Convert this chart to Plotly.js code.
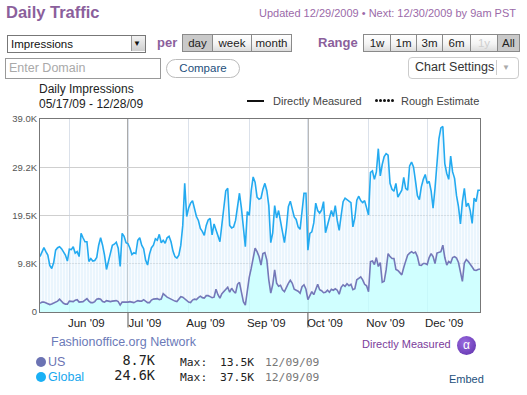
<!DOCTYPE html>
<html><head><meta charset="utf-8">
<script src="https://cdn.plot.ly/plotly-3.0.1.min.js"></script>
<style>
body{margin:0;width:527px;height:395px;overflow:hidden;background:#fff;font-family:"Liberation Sans",Arial,sans-serif;position:relative}
#chart{position:absolute;left:0;top:0;width:527px;height:395px}
.a{position:absolute;white-space:nowrap;line-height:1}
.btn{position:absolute;top:34px;height:16px;border:1px solid #8a8a8a;background:linear-gradient(#ffffff 0%,#f4f4f4 55%,#dcdcdc 100%);font-size:11.5px;color:#222;text-align:center;line-height:16px;box-sizing:content-box}
.pr{background:#c9c9c9}
.mono{font-family:"DejaVu Sans Mono","Liberation Mono",monospace}
.dot{position:absolute;top:99px;width:3px;height:3px;border-radius:50%;background:#111}
</style></head><body>
<div id="chart"></div>

<div class="a" style="left:6px;top:4px;font-size:16.5px;font-weight:bold;color:#8b5f9c">Daily Traffic</div>
<div class="a" style="right:11px;top:8px;font-size:11px;color:#9b6aa9">Updated 12/29/2009 &#8226; Next: 12/30/2009 by 9am PST</div>

<div class="a" style="left:7px;top:35px;width:137px;height:16px;border:1px solid #777;background:#fff"></div>
<div class="a" style="left:11px;top:39px;font-size:11.5px;color:#111">Impressions</div>
<div class="a" style="left:131px;top:36px;width:13px;height:15px;background:linear-gradient(#f2f2f2,#cfcfcf);border-left:1px solid #999"></div>
<div class="a" style="left:133px;top:40px;font-size:8px;color:#111">&#9660;</div>

<div class="a" style="left:157px;top:36px;font-size:13px;font-weight:bold;color:#8b5f9c">per</div>
<div class="btn pr" style="left:182px;width:29px">day</div>
<div class="btn" style="left:212px;width:38px">week</div>
<div class="btn" style="left:251px;width:39px">month</div>

<div class="a" style="left:318px;top:36px;font-size:13px;font-weight:bold;color:#8b5f9c">Range</div>
<div class="btn" style="left:363px;width:26px">1w</div>
<div class="btn" style="left:390px;width:25px">1m</div>
<div class="btn" style="left:416px;width:25px">3m</div>
<div class="btn" style="left:442px;width:27px">6m</div>
<div class="btn" style="left:470px;width:26px;color:#cfcfcf">1y</div>
<div class="btn pr" style="left:497px;width:21px">All</div>

<div class="a" style="left:5px;top:58px;width:154px;height:19px;border:1px solid #999;background:#fff"></div>
<div class="a" style="left:9px;top:62px;font-size:12.5px;color:#a9a9a9">Enter Domain</div>
<div class="a" style="left:166px;top:59px;width:72px;height:17px;border:1px solid #bbb;border-radius:10px;background:#fff;font-size:11.5px;color:#1d4f7c;text-align:center;line-height:17px">Compare</div>
<div class="a" style="left:408px;top:57px;width:109px;height:20px;border:1px solid #ccc;border-radius:4px;background:#fff"></div>
<div class="a" style="left:415px;top:61px;font-size:12.5px;color:#333">Chart Settings</div>
<div class="a" style="left:496px;top:60px;width:1px;height:15px;background:#ccc"></div>
<div class="a" style="left:502px;top:64px;font-size:8px;color:#aaa">&#9660;</div>

<div class="a" style="left:39px;top:83px;font-size:12px;color:#222">Daily Impressions</div>
<div class="a" style="left:39px;top:98px;font-size:12px;color:#222">05/17/09 - 12/28/09</div>
<div class="a" style="left:247px;top:100px;width:17px;height:2px;background:#111"></div>
<div class="a" style="left:273px;top:96px;font-size:11px;color:#444">Directly Measured</div>
<div class="dot" style="left:375px"></div><div class="dot" style="left:379px"></div><div class="dot" style="left:383px"></div><div class="dot" style="left:387px"></div><div class="dot" style="left:391px"></div>
<div class="a" style="left:401px;top:96px;font-size:11px;color:#444">Rough Estimate</div>

<div class="a" style="left:51px;top:336px;font-size:12.5px;color:#6b7ab8">Fashionoffice.org Network</div>
<div class="a" style="left:362px;top:339px;font-size:11px;color:#7b3c9b">Directly Measured</div>
<div class="a" style="left:457px;top:336px;width:19px;height:19px;border-radius:50%;background:radial-gradient(circle at 40% 35%,#9a6ae0,#5b2ea8);color:#fff;font-size:12px;text-align:center;line-height:18px">&#945;</div>

<div class="a" style="left:36px;top:357px;width:10px;height:10px;border-radius:50%;background:#6b73b3"></div>
<div class="a" style="left:48px;top:356px;font-size:12.5px;color:#6b73b3">US</div>
<div class="a mono" style="left:110px;width:45px;text-align:right;top:354px;font-size:13.5px;color:#222">8.7K</div>
<div class="a mono" style="left:180px;top:357px;font-size:11.3px;color:#222">Max:</div>
<div class="a mono" style="left:220px;top:357px;font-size:11.3px;color:#222">13.5K</div>
<div class="a mono" style="left:265px;top:357px;font-size:11.3px;color:#777">12/09/09</div>

<div class="a" style="left:36px;top:372px;width:10px;height:10px;border-radius:50%;background:#1ab0f5"></div>
<div class="a" style="left:48px;top:371px;font-size:12.5px;color:#1aa8ee">Global</div>
<div class="a mono" style="left:110px;width:45px;text-align:right;top:369px;font-size:13.5px;color:#222">24.6K</div>
<div class="a mono" style="left:180px;top:372px;font-size:11.3px;color:#222">Max:</div>
<div class="a mono" style="left:220px;top:372px;font-size:11.3px;color:#222">37.5K</div>
<div class="a mono" style="left:265px;top:372px;font-size:11.3px;color:#777">12/09/09</div>
<div class="a" style="left:449px;top:374px;font-size:11px;color:#1d4f7c">Embed</div>

<script>
const startDate = '2009-05-17';
const globalK = [
11.2,12.3,13.0,12.2,11.5,9.4,8.8,10.0,12.5,13.0,
13.2,12.8,12.2,11.5,10.3,12.7,12.6,13.2,11.9,12.2,
11.2,15.9,15.0,14.2,14.2,10.2,10.8,10.3,10.4,11.0,
13.5,15.0,13.5,11.5,8.6,10.2,11.5,13.5,13.7,14.1,
12.9,9.2,15.9,15.3,14.0,13.8,12.9,11.6,12.0,11.8,
14.5,15.0,13.5,12.8,10.5,9.5,11.7,13.0,13.5,14.8,
14.5,15.7,14.0,14.5,13.9,15.0,15.3,14.2,12.3,11.2,
10.9,11.5,13.5,17.5,26.0,19.3,21.0,22.0,22.5,21.0,
19.3,18.5,16.9,16.3,15.5,17.5,18.6,18.9,15.6,17.8,
16.8,15.4,14.2,17.9,21.3,24.5,25.0,17.5,17.0,17.2,
18.5,21.8,24.0,21.0,16.6,13.2,20.3,19.5,24.5,27.3,
26.2,23.2,22.8,23.0,24.8,26.0,24.5,21.5,14.0,16.0,
21.5,19.0,20.5,18.5,16.0,14.0,17.0,21.3,22.4,20.5,
19.2,18.7,17.2,16.7,21.0,24.0,24.0,12.5,15.9,16.2,
18.0,22.0,20.5,20.0,20.6,22.3,16.0,17.5,19.5,20.5,
19.3,21.5,18.5,16.5,19.5,22.3,23.0,22.7,22.5,22.1,
17.2,19.0,22.6,23.4,22.5,22.1,22.5,20.8,19.6,28.2,
28.5,26.8,28.3,33.0,27.5,29.8,31.4,32.0,31.7,26.0,
24.8,24.4,26.0,23.2,24.0,24.6,27.2,25.0,24.6,29.5,
30.3,29.3,26.5,23.5,22.7,25.3,26.8,27.8,26.0,26.4,
24.5,21.0,25.0,29.5,35.0,37.2,37.5,30.0,28.0,26.8,
31.5,28.3,27.0,23.5,21.3,17.8,22.3,25.0,21.3,22.0,
20.5,17.9,23.0,22.3,24.6,24.6];
const usK = [
1.75,2.0,2.0,1.8,1.7,1.5,1.6,1.8,2.0,2.2,
2.6,2.1,1.75,1.6,1.6,2.2,2.2,2.1,2.4,2.5,
2.0,2.0,2.1,2.4,2.7,2.2,1.9,1.9,2.1,2.6,
2.7,2.6,2.1,2.0,2.3,2.2,2.1,2.2,2.3,2.3,
2.1,1.4,2.0,2.0,1.9,2.0,2.1,2.0,1.9,2.1,
2.3,2.2,2.2,2.5,2.2,1.9,1.9,2.4,2.6,2.7,
2.7,2.5,2.6,3.7,3.3,3.0,2.8,2.6,2.3,2.2,
2.1,2.7,3.1,3.0,2.7,2.3,2.0,1.9,2.4,2.6,
2.5,2.9,3.2,2.9,2.8,3.3,3.3,3.1,2.9,3.0,
4.6,3.5,2.8,3.7,4.1,4.6,5.0,4.0,4.8,4.2,
3.8,5.6,6.0,4.0,2.1,1.4,4.5,7.0,8.8,10.8,
12.9,12.2,11.2,9.5,11.8,12.0,10.5,6.5,3.8,5.5,
8.5,5.8,5.2,5.4,4.5,4.1,5.0,5.8,6.4,5.8,
4.6,4.4,4.2,3.8,5.1,5.5,4.6,2.5,3.4,4.1,
3.5,4.5,5.6,4.5,4.3,3.9,4.0,4.4,4.0,4.6,
4.4,4.7,4.4,3.6,5.0,5.5,5.2,5.7,5.3,5.6,
4.5,4.7,6.5,6.8,7.1,6.5,5.6,5.3,4.1,10.2,
10.3,9.6,11.0,9.2,10.0,6.0,6.2,8.5,11.8,11.2,
10.8,10.8,8.6,8.4,7.9,7.5,9.0,10.4,11.5,11.9,
12.2,11.9,12.1,11.2,9.5,9.4,9.8,9.8,9.6,11.0,
11.8,11.2,9.8,11.9,12.0,12.2,13.5,11.0,9.5,10.2,
9.9,11.0,11.2,10.9,10.0,8.3,6.2,9.9,10.6,10.2,
9.5,9.1,8.5,8.4,8.6,8.7];
const monthTicks = ['2009-06-01','2009-07-01','2009-08-01','2009-09-01','2009-10-01','2009-11-01','2009-12-01'];
const monthLabels = ["Jun '09","Jul '09","Aug '09","Sep '09","Oct '09","Nov '09","Dec '09"];
const quarterTicks = ['2009-07-01','2009-10-01'];
const yTickVals = [0, 9750, 19500, 29250, 39000];
const yTickText = ['0','9.8K','19.5K','29.2K','39.0K'];

function isoDay(i){
  const d = new Date(startDate + 'T00:00:00Z');
  d.setUTCDate(d.getUTCDate() + i);
  return d.toISOString().slice(0,10);
}
const dates = globalK.map((_, i) => isoDay(i));
const globalY = globalK.map(v => v * 1000);
const usY = usK.map(v => v * 1000);

const traces = [
  {x: dates, y: usY, type:'scatter', mode:'lines', name:'US',
   line:{color:'#7478b8', width:1.6}, fill:'tozeroy', fillcolor:'rgba(192,255,255,0.75)', hoverinfo:'skip'},
  {x: dates, y: globalY, type:'scatter', mode:'lines', name:'Global',
   line:{color:'#23aaf0', width:1.6}, fill:'tonexty',
   fillpattern:{shape:'|', bgcolor:'rgba(214,235,252,0.5)', fgcolor:'rgba(255,255,255,0.8)', size:3, solidity:0.3},
   hoverinfo:'skip'}
];

const shapes = quarterTicks.map(q => ({type:'line', xref:'x', yref:'paper', x0:q, x1:q, y0:-0.08, y1:1,
  line:{color:'#555', width:1}, layer:'below'}));
shapes.push({type:'line', xref:'paper', yref:'y', x0:0, x1:1, y0:yTickVals[2], y1:yTickVals[2],
  line:{color:'#9a9a9a', width:1}, layer:'below'});

const layout = {
  width:527, height:395,
  margin:{l:40, r:47, t:119, b:83, pad:0},
  paper_bgcolor:'rgba(0,0,0,0)', plot_bgcolor:'#fff',
  font:{family:'"Liberation Sans", Arial, sans-serif', color:'#333'},
  showlegend:false,
  xaxis:{type:'date', range:[dates[0], dates[dates.length-1]],
    tickvals: monthTicks, ticktext: monthLabels, ticks:'', ticklabelshift:17,
    tickfont:{size:11.5, color:'#222'}, showgrid:true, gridcolor:'#dbe1ea', gridwidth:1,
    showline:true, linecolor:'#777', linewidth:1, mirror:true, zeroline:false, fixedrange:true},
  yaxis:{range:[0, 39000], tickvals: yTickVals, ticktext: yTickText, ticks:'',
    tickfont:{size:9.5, color:'#555'}, showgrid:true, gridcolor:'#cfcfcf', gridwidth:1,
    showline:true, linecolor:'#777', linewidth:1, mirror:true, zeroline:false, fixedrange:true},
  shapes: shapes
};
Plotly.newPlot('chart', traces, layout, {displayModeBar:false, staticPlot:true});
</script>
</body></html>
